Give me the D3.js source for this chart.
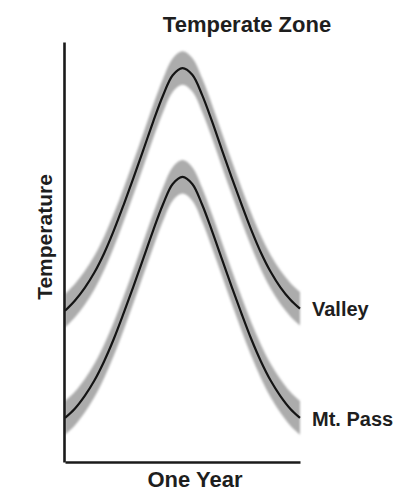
<!DOCTYPE html>
<html>
<head>
<meta charset="utf-8">
<script src="https://cdn.jsdelivr.net/npm/d3@7"></script>
<style>
  html, body { margin: 0; padding: 0; background: #fff; }
  svg { display: block; }
  text { font-family: "Liberation Sans", Arial, sans-serif; font-weight: bold; fill: #1e1e1e; }
</style>
</head>
<body>
<svg id="chart" width="395" height="498"></svg>
<script>
// Time of year (months) at which temperatures are sampled
const months = [0, 0.5, 1, 1.5, 2, 2.5, 3, 3.5, 4, 4.5, 5, 5.5, 6,
                6.5, 7, 7.5, 8, 8.5, 9, 9.5, 10, 10.5, 11, 11.5, 12];

// Mean temperature through the year (relative units)
const valley = [36.0, 38.4, 41.4, 45.1, 49.7, 55.2, 61.3, 67.7, 74.3, 81.0, 87.2, 92.1, 93.8,
                92.2, 87.4, 81.2, 74.5, 67.9, 61.5, 55.4, 49.9, 45.3, 41.6, 38.7, 36.5];
const mtPass = [10.5, 12.7, 15.7, 19.4, 24.0, 29.4, 35.5, 41.9, 48.5, 55.1, 61.3, 66.2, 67.9,
                66.2, 61.3, 55.1, 48.5, 41.9, 35.5, 29.4, 24.0, 19.4, 15.7, 12.7, 10.5];

// Day-to-day spread around the mean (same units)
const spread = [4.0];

const seriesNames = ["Valley", "Mt. Pass"];
const seriesValues = [valley, mtPass];

const titleText = "Temperate Zone";
const xLabel = "One Year";
const yLabel = "Temperature";

const svg = d3.select("#chart");

const x = d3.scaleLinear().domain([0, 12]).range([65, 300]);
const y = d3.scaleLinear().domain([0, 100]).range([462, 42]);

const defs = svg.append("defs");
defs.append("filter").attr("id", "soft")
  .attr("x", "-5%").attr("y", "-5%").attr("width", "110%").attr("height", "110%")
  .append("feGaussianBlur").attr("stdDeviation", 1.2);

const series = seriesNames.map((name, i) => ({
  name,
  points: months.map((m, j) => ({ m, t: seriesValues[i][j] }))
}));

const band = d3.area()
  .x(d => x(d.m))
  .y0(d => y(d.t - spread[0]))
  .y1(d => y(d.t + spread[0]))
  .curve(d3.curveCatmullRom);

const line = d3.line()
  .x(d => x(d.m))
  .y(d => y(d.t))
  .curve(d3.curveCatmullRom);

const g = svg.append("g");

g.selectAll("path.band")
  .data(series)
  .join("path")
  .attr("class", "band")
  .attr("d", d => band(d.points))
  .attr("fill", "#acacac")
  .attr("filter", "url(#soft)");

g.selectAll("path.mean")
  .data(series)
  .join("path")
  .attr("class", "mean")
  .attr("d", d => line(d.points))
  .attr("fill", "none")
  .attr("stroke", "#141414")
  .attr("stroke-width", 2.2);

// Series labels at the end of each curve
g.selectAll("text.series")
  .data(series)
  .join("text")
  .attr("class", "series")
  .attr("x", x(12) + 12)
  .attr("y", d => y(d.points[d.points.length - 1].t))
  .attr("dy", "0.38em")
  .attr("font-size", 20)
  .text(d => d.name);

// Axes: plain lines, no ticks
const yAxis = svg.append("g")
  .attr("transform", `translate(64,0)`)
  .call(d3.axisLeft(y).tickValues([]).tickSizeOuter(0));
const xAxis = svg.append("g")
  .attr("transform", `translate(0,462)`)
  .call(d3.axisBottom(x).tickValues([]).tickSizeOuter(0));
[yAxis, xAxis].forEach(a => a.select(".domain")
  .attr("stroke", "#1a1a1a").attr("stroke-width", 2.6));

svg.append("text")
  .attr("x", 247).attr("y", 32)
  .attr("text-anchor", "middle")
  .attr("font-size", 22)
  .text(titleText);

svg.append("text")
  .attr("x", 195).attr("y", 487)
  .attr("text-anchor", "middle")
  .attr("font-size", 22)
  .text(xLabel);

svg.append("text")
  .attr("transform", `translate(52,237) rotate(-90)`)
  .attr("text-anchor", "middle")
  .attr("font-size", 21)
  .text(yLabel);
</script>
</body>
</html>
